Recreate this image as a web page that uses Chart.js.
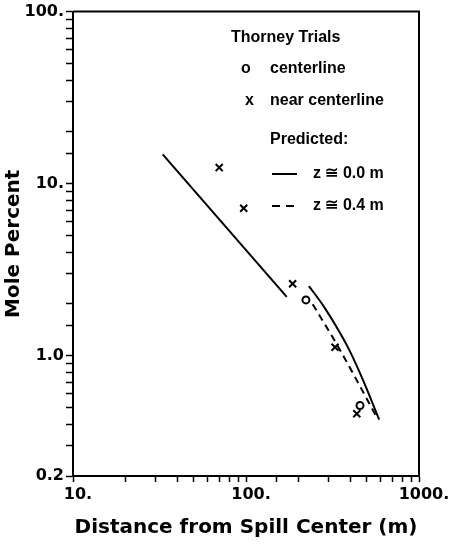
<!DOCTYPE html>
<html>
<head>
<meta charset="utf-8">
<script src="https://cdn.jsdelivr.net/npm/chart.js@4"></script>
<style>
  html, body { margin: 0; padding: 0; background: #fff; }
  #wrap { width: 454px; height: 545px; }
</style>
</head>
<body>
<div id="wrap"><canvas id="chart"></canvas></div>
<script>
// Thorney Trials
const centerX = [222, 456];
const centerY = [2.11, 0.514];

const nearX = [70, 97, 186, 327, 437];
const nearY = [12.4, 7.2, 2.62, 1.12, 0.46];

// previsão z = 0.0 m (dois trechos)
const pred0aX = [33, 172];
const pred0aY = [14.8, 2.2];
const pred0bX = [231, 280, 349, 399, 476, 589];
const pred0bY = [2.54, 1.95, 1.36, 1.06, 0.717, 0.425];

// previsão z = 0.4 m
const pred4X = [243, 334, 417, 569];
const pred4Y = [1.99, 1.17, 0.784, 0.44];

const xTickLabels = { 10: '10.', 100: '100.', 1000: '1000.' };
const yTickLabels = { 100: '100.', 10: '10.', 1: '1.0', 0.2: '0.2' };

const pts = (xs, ys) => xs.map((x, i) => ({ x: x, y: ys[i] }));

const findLabel = (table, v) => {
    for (const k of Object.keys(table)) {
        if (Math.abs(Number(k) - v) < 1e-6 * Number(k)) return table[k];
    }
    return '';
};

const tickFont = { family: 'DejaVu Sans', size: 16, weight: 'bold' };
const titleFont = { family: 'DejaVu Sans', size: 20, weight: 'bold' };

// moldura + legenda desenhada à mão
const framePlugin = {
    id: 'frame',
    afterDatasetsDraw(chart) {
        const { ctx, chartArea: a } = chart;
        ctx.save();
        ctx.strokeStyle = '#000';
        ctx.lineWidth = 2;
        ctx.beginPath();
        ctx.moveTo(a.left, a.top);
        ctx.lineTo(a.right, a.top);
        ctx.lineTo(a.right, a.bottom);
        ctx.stroke();

        ctx.fillStyle = '#000';
        ctx.textBaseline = 'middle';
        ctx.font = 'bold 16px "Liberation Sans"';
        ctx.fillText('Thorney Trials', 231, 38);
        ctx.fillText('o', 241, 69);
        ctx.fillText('centerline', 270, 69);
        ctx.fillText('x', 245, 101);
        ctx.fillText('near centerline', 270, 101);
        ctx.fillText('Predicted:', 270, 140);
        ctx.fillText('z \u2245 0.0 m', 313, 174);
        ctx.fillText('z \u2245 0.4 m', 313, 206);

        ctx.lineWidth = 2;
        ctx.beginPath();
        ctx.moveTo(272, 174);
        ctx.lineTo(297, 174);
        ctx.stroke();
        ctx.setLineDash([8, 6]);
        ctx.beginPath();
        ctx.moveTo(272, 206);
        ctx.lineTo(300, 206);
        ctx.stroke();
        ctx.restore();
    }
};

new Chart(document.getElementById('chart'), {
    type: 'scatter',
    data: {
        datasets: [
            {
                label: 'centerline',
                data: pts(centerX, centerY),
                pointStyle: 'circle',
                pointRadius: 3.5,
                borderColor: '#000',
                backgroundColor: 'rgba(0,0,0,0)',
                borderWidth: 2,
                showLine: false
            },
            {
                label: 'near centerline',
                data: pts(nearX, nearY),
                pointStyle: 'crossRot',
                pointRadius: 5,
                borderColor: '#000',
                borderWidth: 2,
                showLine: false
            },
            {
                label: 'z = 0.0 m (a)',
                data: pts(pred0aX, pred0aY),
                showLine: true,
                pointRadius: 0,
                borderColor: '#000',
                borderWidth: 2
            },
            {
                label: 'z = 0.0 m (b)',
                data: pts(pred0bX, pred0bY),
                showLine: true,
                pointRadius: 0,
                borderColor: '#000',
                borderWidth: 2,
                cubicInterpolationMode: 'monotone'
            },
            {
                label: 'z = 0.4 m',
                data: pts(pred4X, pred4Y),
                showLine: true,
                pointRadius: 0,
                borderColor: '#000',
                borderWidth: 2,
                borderDash: [7, 5],
                cubicInterpolationMode: 'monotone'
            }
        ]
    },
    options: {
        responsive: true,
        maintainAspectRatio: false,
        animation: false,
        layout: { padding: { top: 9, right: 35, left: 0, bottom: 0 } },
        plugins: {
            legend: { display: false },
            tooltip: { enabled: false }
        },
        scales: {
            x: {
                type: 'logarithmic',
                min: 10,
                max: 1000,
                afterFit: s => { s.height = 69; },
                border: { display: true, color: '#000', width: 2 },
                grid: { drawOnChartArea: false, drawTicks: true, tickLength: 6, tickColor: '#000', tickWidth: 1.5 },
                ticks: {
                    autoSkip: false,
                    maxRotation: 0,
                    color: '#000',
                    font: tickFont,
                    padding: 3,
                    labelOffset: 5,
                    callback: v => findLabel(xTickLabels, v)
                },
                title: {
                    display: true,
                    text: 'Distance from Spill Center (m)',
                    color: '#000',
                    font: titleFont,
                    padding: { top: 0, bottom: 5 }
                }
            },
            y: {
                type: 'logarithmic',
                min: 0.2,
                max: 100,
                afterFit: s => { s.width = 73; },
                border: { display: true, color: '#000', width: 2 },
                grid: { drawOnChartArea: false, drawTicks: true, tickLength: 7, tickColor: '#000', tickWidth: 1.5 },
                ticks: {
                    autoSkip: false,
                    color: '#000',
                    font: tickFont,
                    padding: 2,
                    callback: v => findLabel(yTickLabels, v)
                },
                title: {
                    display: true,
                    text: 'Mole Percent',
                    color: '#000',
                    font: titleFont,
                    padding: { top: 2, bottom: 0 }
                }
            }
        }
    },
    plugins: [framePlugin]
});
</script>
</body>
</html>
